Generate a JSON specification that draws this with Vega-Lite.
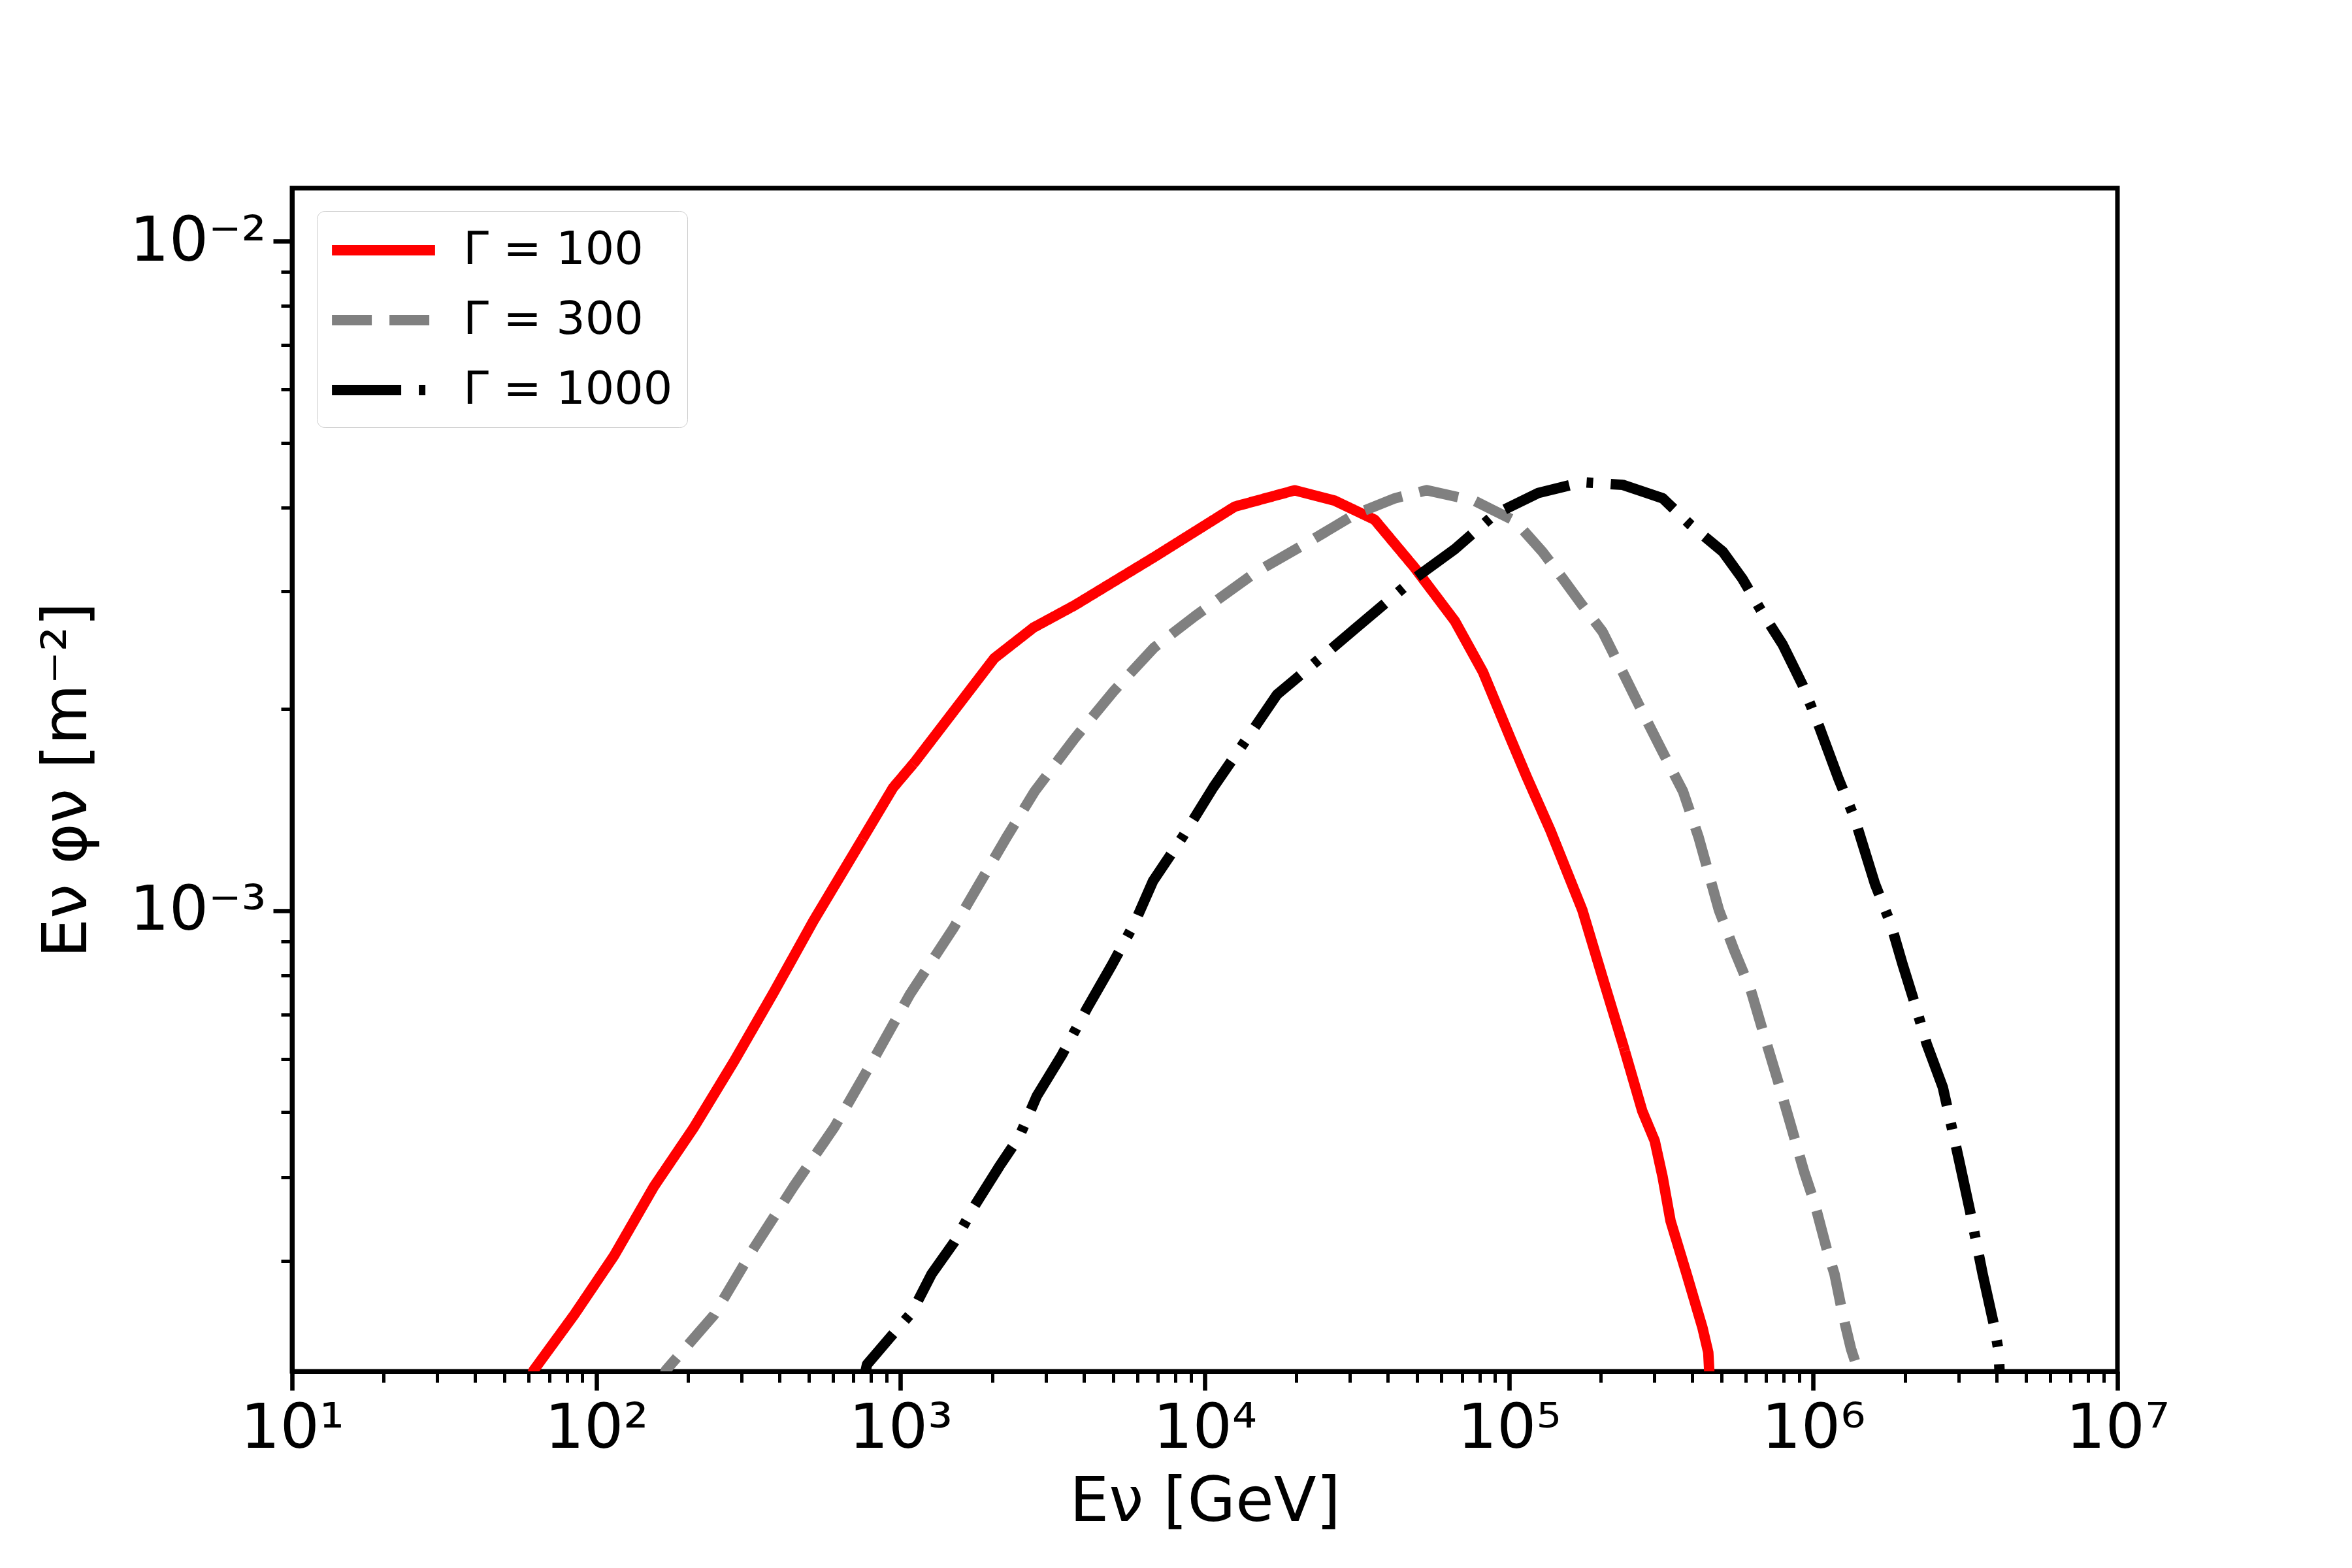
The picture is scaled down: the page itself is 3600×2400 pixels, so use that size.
{
  "$schema": "https://vega.github.io/schema/vega-lite/v6.json",
  "autosize": "none",
  "width": 2794,
  "height": 1811,
  "padding": {"left": 447, "top": 288, "right": 359, "bottom": 301},
  "background": "white",
  "config": {
    "font": "DejaVu Sans",
    "view": {"stroke": "black", "strokeWidth": 7},
    "axis": {
      "grid": false,
      "labelFont": "DejaVu Sans",
      "labelFontSize": 95,
      "labelColor": "black",
      "labelLimit": 1000,
      "titleFont": "DejaVu Sans",
      "titleFontSize": 95,
      "titleFontWeight": "normal",
      "titleColor": "black",
      "domainColor": "black",
      "domainWidth": 7,
      "tickColor": "black",
      "labelOverlap": false,
      "labelFlush": false,
      "labelBound": false
    },
    "legend": {
      "orient": "none",
      "legendX": 38,
      "legendY": 35,
      "fillColor": "white",
      "strokeColor": "#cccccc",
      "cornerRadius": 12,
      "padding": 22,
      "symbolType": "M-2.63,0H2.63",
      "symbolSize": 3600,
      "symbolOffset": 42,
      "symbolStrokeWidth": 16,
      "labelFont": "DejaVu Sans",
      "labelFontSize": 70,
      "labelColor": "black",
      "labelOffset": 84,
      "labelLimit": 1000,
      "rowPadding": 34
    }
  },
  "data": {
    "values": [
      {"g": "Γ = 100", "E": 58.9, "F": 1.905e-4},
      {"g": "Γ = 100", "E": 62.3, "F": 2.058e-4},
      {"g": "Γ = 100", "E": 84.7, "F": 2.492e-4},
      {"g": "Γ = 100", "E": 114.4, "F": 3.051e-4},
      {"g": "Γ = 100", "E": 154.7, "F": 3.871e-4},
      {"g": "Γ = 100", "E": 209.2, "F": 4.741e-4},
      {"g": "Γ = 100", "E": 284.2, "F": 5.963e-4},
      {"g": "Γ = 100", "E": 384.2, "F": 7.566e-4},
      {"g": "Γ = 100", "E": 517.0, "F": 9.647e-4},
      {"g": "Γ = 100", "E": 699, "F": 1.213e-3},
      {"g": "Γ = 100", "E": 945.2, "F": 1.526e-3},
      {"g": "Γ = 100", "E": 1113, "F": 1.666e-3},
      {"g": "Γ = 100", "E": 2033, "F": 2.382e-3},
      {"g": "Γ = 100", "E": 2736, "F": 2.647e-3},
      {"g": "Γ = 100", "E": 3737, "F": 2.858e-3},
      {"g": "Γ = 100", "E": 5047, "F": 3.105e-3},
      {"g": "Γ = 100", "E": 6831, "F": 3.375e-3},
      {"g": "Γ = 100", "E": 12550, "F": 4.013e-3},
      {"g": "Γ = 100", "E": 19780, "F": 4.245e-3},
      {"g": "Γ = 100", "E": 26740, "F": 4.096e-3},
      {"g": "Γ = 100", "E": 36150, "F": 3.837e-3},
      {"g": "Γ = 100", "E": 48880, "F": 3.256e-3},
      {"g": "Γ = 100", "E": 66410, "F": 2.707e-3},
      {"g": "Γ = 100", "E": 82130, "F": 2.272e-3},
      {"g": "Γ = 100", "E": 101200, "F": 1.807e-3},
      {"g": "Γ = 100", "E": 114300, "F": 1.585e-3},
      {"g": "Γ = 100", "E": 136800, "F": 1.318e-3},
      {"g": "Γ = 100", "E": 174200, "F": 1.002e-3},
      {"g": "Γ = 100", "E": 202800, "F": 7.96e-4},
      {"g": "Γ = 100", "E": 236600, "F": 6.32e-4},
      {"g": "Γ = 100", "E": 274200, "F": 5.02e-4},
      {"g": "Γ = 100", "E": 301300, "F": 4.53e-4},
      {"g": "Γ = 100", "E": 319900, "F": 4.0e-4},
      {"g": "Γ = 100", "E": 339600, "F": 3.44e-4},
      {"g": "Γ = 100", "E": 383700, "F": 2.864e-4},
      {"g": "Γ = 100", "E": 432500, "F": 2.382e-4},
      {"g": "Γ = 100", "E": 451900, "F": 2.188e-4},
      {"g": "Γ = 100", "E": 459200, "F": 1.905e-4},
      {"g": "Γ = 300", "E": 162.2, "F": 1.905e-4},
      {"g": "Γ = 300", "E": 169.4, "F": 2.058e-4},
      {"g": "Γ = 300", "E": 243.8, "F": 2.489e-4},
      {"g": "Γ = 300", "E": 329.6, "F": 3.133e-4},
      {"g": "Γ = 300", "E": 445.6, "F": 3.873e-4},
      {"g": "Γ = 300", "E": 605.4, "F": 4.742e-4},
      {"g": "Γ = 300", "E": 818.5, "F": 6.012e-4},
      {"g": "Γ = 300", "E": 1074, "F": 7.499e-4},
      {"g": "Γ = 300", "E": 1489, "F": 9.397e-4},
      {"g": "Γ = 300", "E": 2234, "F": 1.288e-3},
      {"g": "Γ = 300", "E": 2761, "F": 1.507e-3},
      {"g": "Γ = 300", "E": 3733, "F": 1.807e-3},
      {"g": "Γ = 300", "E": 5047, "F": 2.133e-3},
      {"g": "Γ = 300", "E": 6823, "F": 2.472e-3},
      {"g": "Γ = 300", "E": 9290, "F": 2.754e-3},
      {"g": "Γ = 300", "E": 14560, "F": 3.192e-3},
      {"g": "Γ = 300", "E": 22960, "F": 3.597e-3},
      {"g": "Γ = 300", "E": 31190, "F": 3.908e-3},
      {"g": "Γ = 300", "E": 42170, "F": 4.130e-3},
      {"g": "Γ = 300", "E": 53700, "F": 4.246e-3},
      {"g": "Γ = 300", "E": 77090, "F": 4.093e-3},
      {"g": "Γ = 300", "E": 104700, "F": 3.819e-3},
      {"g": "Γ = 300", "E": 128800, "F": 3.436e-3},
      {"g": "Γ = 300", "E": 150300, "F": 3.133e-3},
      {"g": "Γ = 300", "E": 174200, "F": 2.858e-3},
      {"g": "Γ = 300", "E": 202800, "F": 2.612e-3},
      {"g": "Γ = 300", "E": 236600, "F": 2.270e-3},
      {"g": "Γ = 300", "E": 274200, "F": 1.982e-3},
      {"g": "Γ = 300", "E": 319900, "F": 1.726e-3},
      {"g": "Γ = 300", "E": 373300, "F": 1.507e-3},
      {"g": "Γ = 300", "E": 419800, "F": 1.288e-3},
      {"g": "Γ = 300", "E": 489800, "F": 1.002e-3},
      {"g": "Γ = 300", "E": 550800, "F": 8.710e-4},
      {"g": "Γ = 300", "E": 623700, "F": 7.603e-4},
      {"g": "Γ = 300", "E": 682300, "F": 6.622e-4},
      {"g": "Γ = 300", "E": 770900, "F": 5.508e-4},
      {"g": "Γ = 300", "E": 843300, "F": 4.786e-4},
      {"g": "Γ = 300", "E": 933300, "F": 4.074e-4},
      {"g": "Γ = 300", "E": 1012000, "F": 3.648e-4},
      {"g": "Γ = 300", "E": 1107000, "F": 3.126e-4},
      {"g": "Γ = 300", "E": 1175000, "F": 2.864e-4},
      {"g": "Γ = 300", "E": 1250000, "F": 2.495e-4},
      {"g": "Γ = 300", "E": 1330000, "F": 2.218e-4},
      {"g": "Γ = 300", "E": 1409000, "F": 2.046e-4},
      {"g": "Γ = 300", "E": 1429000, "F": 1.905e-4},
      {"g": "Γ = 1000", "E": 741.3, "F": 1.905e-4},
      {"g": "Γ = 1000", "E": 776.2, "F": 2.099e-4},
      {"g": "Γ = 1000", "E": 918.4, "F": 2.296e-4},
      {"g": "Γ = 1000", "E": 1091, "F": 2.512e-4},
      {"g": "Γ = 1000", "E": 1265, "F": 2.864e-4},
      {"g": "Γ = 1000", "E": 1503, "F": 3.199e-4},
      {"g": "Γ = 1000", "E": 1746, "F": 3.614e-4},
      {"g": "Γ = 1000", "E": 2113, "F": 4.150e-4},
      {"g": "Γ = 1000", "E": 2455, "F": 4.592e-4},
      {"g": "Γ = 1000", "E": 2805, "F": 5.284e-4},
      {"g": "Γ = 1000", "E": 3388, "F": 6.081e-4},
      {"g": "Γ = 1000", "E": 4102, "F": 7.145e-4},
      {"g": "Γ = 1000", "E": 4955, "F": 8.299e-4},
      {"g": "Γ = 1000", "E": 5861, "F": 9.550e-4},
      {"g": "Γ = 1000", "E": 6761, "F": 1.107e-3},
      {"g": "Γ = 1000", "E": 8453, "F": 1.288e-3},
      {"g": "Γ = 1000", "E": 10670, "F": 1.528e-3},
      {"g": "Γ = 1000", "E": 14550, "F": 1.875e-3},
      {"g": "Γ = 1000", "E": 17300, "F": 2.104e-3},
      {"g": "Γ = 1000", "E": 19770, "F": 2.213e-3},
      {"g": "Γ = 1000", "E": 31190, "F": 2.636e-3},
      {"g": "Γ = 1000", "E": 48870, "F": 3.133e-3},
      {"g": "Γ = 1000", "E": 66370, "F": 3.467e-3},
      {"g": "Γ = 1000", "E": 89740, "F": 3.908e-3},
      {"g": "Γ = 1000", "E": 125000, "F": 4.207e-3},
      {"g": "Γ = 1000", "E": 174200, "F": 4.365e-3},
      {"g": "Γ = 1000", "E": 236600, "F": 4.325e-3},
      {"g": "Γ = 1000", "E": 319900, "F": 4.130e-3},
      {"g": "Γ = 1000", "E": 395500, "F": 3.767e-3},
      {"g": "Γ = 1000", "E": 504700, "F": 3.436e-3},
      {"g": "Γ = 1000", "E": 584800, "F": 3.133e-3},
      {"g": "Γ = 1000", "E": 682300, "F": 2.780e-3},
      {"g": "Γ = 1000", "E": 794300, "F": 2.495e-3},
      {"g": "Γ = 1000", "E": 922600, "F": 2.173e-3},
      {"g": "Γ = 1000", "E": 1042000, "F": 1.892e-3},
      {"g": "Γ = 1000", "E": 1211000, "F": 1.574e-3},
      {"g": "Γ = 1000", "E": 1368000, "F": 1.374e-3},
      {"g": "Γ = 1000", "E": 1596000, "F": 1.096e-3},
      {"g": "Γ = 1000", "E": 1799000, "F": 9.550e-4},
      {"g": "Γ = 1000", "E": 1963000, "F": 8.337e-4},
      {"g": "Γ = 1000", "E": 2158000, "F": 7.261e-4},
      {"g": "Γ = 1000", "E": 2360000, "F": 6.324e-4},
      {"g": "Γ = 1000", "E": 2667000, "F": 5.445e-4},
      {"g": "Γ = 1000", "E": 3006000, "F": 4.266e-4},
      {"g": "Γ = 1000", "E": 3281000, "F": 3.548e-4},
      {"g": "Γ = 1000", "E": 3606000, "F": 2.864e-4},
      {"g": "Γ = 1000", "E": 3945000, "F": 2.382e-4},
      {"g": "Γ = 1000", "E": 4074000, "F": 2.188e-4},
      {"g": "Γ = 1000", "E": 4121000, "F": 1.905e-4}
    ]
  },
  "mark": {"type": "line", "clip": true, "strokeWidth": 16, "strokeJoin": "round", "strokeCap": "butt"},
  "encoding": {
    "x": {
      "field": "E",
      "type": "quantitative",
      "scale": {"type": "log", "domain": [10, 10000000], "nice": false},
      "axis": {
        "title": "Eν [GeV]",
        "titlePadding": 18,
        "labelPadding": 12,
        "values": [10, 20, 30, 40, 50, 60, 70, 80, 90,
                   100, 200, 300, 400, 500, 600, 700, 800, 900,
                   1000, 2000, 3000, 4000, 5000, 6000, 7000, 8000, 9000,
                   10000, 20000, 30000, 40000, 50000, 60000, 70000, 80000, 90000,
                   100000, 200000, 300000, 400000, 500000, 600000, 700000, 800000, 900000,
                   1000000, 2000000, 3000000, 4000000, 5000000, 6000000, 7000000, 8000000, 9000000,
                   10000000],
        "labelExpr": "abs(log(datum.value)/LN10 - round(log(datum.value)/LN10)) < 0.01 ? '10' + ['⁰','¹','²','³','⁴','⁵','⁶','⁷'][round(log(datum.value)/LN10)] : ''",
        "tickSize": {"condition": {"test": "abs(log(datum.value)/LN10 - round(log(datum.value)/LN10)) < 0.01", "value": 29}, "value": 17},
        "tickWidth": {"condition": {"test": "abs(log(datum.value)/LN10 - round(log(datum.value)/LN10)) < 0.01", "value": 6.6}, "value": 5}
      }
    },
    "y": {
      "field": "F",
      "type": "quantitative",
      "scale": {"type": "log", "domain": [0.000205, 0.012], "nice": false},
      "axis": {
        "title": "Eν φν [m⁻²]",
        "titlePadding": 96,
        "labelPadding": 11,
        "values": [0.0003, 0.0004, 0.0005, 0.0006, 0.0007, 0.0008, 0.0009,
                   0.001, 0.002, 0.003, 0.004, 0.005, 0.006, 0.007, 0.008, 0.009, 0.01],
        "labelExpr": "abs(log(datum.value)/LN10 - round(log(datum.value)/LN10)) < 0.01 ? (round(log(datum.value)/LN10) == -2 ? '10⁻²' : '10⁻³') : ''",
        "tickSize": {"condition": {"test": "abs(log(datum.value)/LN10 - round(log(datum.value)/LN10)) < 0.01", "value": 29}, "value": 17},
        "tickWidth": {"condition": {"test": "abs(log(datum.value)/LN10 - round(log(datum.value)/LN10)) < 0.01", "value": 6.6}, "value": 5}
      }
    },
    "color": {
      "field": "g",
      "type": "nominal",
      "title": null,
      "scale": {"domain": ["Γ = 100", "Γ = 300", "Γ = 1000"], "range": ["#ff0000", "#808080", "#000000"]}
    },
    "strokeDash": {
      "field": "g",
      "type": "nominal",
      "title": null,
      "scale": {"domain": ["Γ = 100", "Γ = 300", "Γ = 1000"], "range": [[1, 0], [61, 27], [106, 27, 10, 27]]}
    }
  }
}
